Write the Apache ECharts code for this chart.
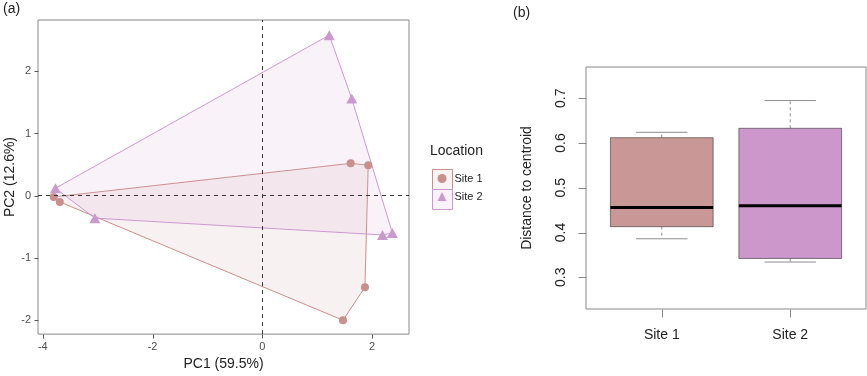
<!DOCTYPE html>
<html>
<head>
<meta charset="utf-8">
<script src="https://cdn.jsdelivr.net/npm/echarts@6/dist/echarts.min.js"></script>
<style>
  html, body { margin: 0; padding: 0; background: #fff; }
  #main { width: 867px; height: 376px; }
</style>
</head>
<body>
<div id="main"></div>
<script>
// PCA scores (a)
var site1PC1 = [-3.80, -3.69, 1.61, 1.93, 1.87, 1.47];
var site1PC2 = [-0.02, -0.10, 0.52, 0.49, -1.47, -2.00];
var site2PC1 = [-3.77, -3.05, 1.22, 1.63, 2.19, 2.37];
var site2PC2 = [0.12, -0.36, 2.58, 1.56, -0.63, -0.60];
var pcTicksX = [-4, -2, 0, 2];
var pcTicksY = [-2, -1, 0, 1, 2];

// distance to centroid (b)
var sites = ['Site 1', 'Site 2'];
var siteTicks = [1, 2];
var distMin = [0.386, 0.334];
var distQ1 = [0.413, 0.342];
var distMedian = [0.456, 0.460];
var distQ3 = [0.612, 0.633];
var distMax = [0.624, 0.695];
var distTicks = [0.3, 0.4, 0.5, 0.6, 0.7];

// axis ranges
var aX = [-4.087, 2.673], aY = [-2.223, 2.823];
var bX = [0.41, 2.59], bY = [0.229, 0.770];

var col1 = '#c98f8c', col2 = '#cc99cf';
var fill1 = '#c99896', fill2 = '#cc98cc';
var font = 'Liberation Sans, Arial, sans-serif';

function zipPts(xs, ys) {
	return xs.map(function (x, i) { return [x, ys[i]]; });
}

// convex hull (monotone chain)
function hull(pts) {
	var p = pts.slice().sort(function (a, b) { return a[0] - b[0] || a[1] - b[1]; });
	var cross = function (o, a, b) { return (a[0] - o[0]) * (b[1] - o[1]) - (a[1] - o[1]) * (b[0] - o[0]); };
	var lower = [], upper = [];
	p.forEach(function (q) {
		while (lower.length >= 2 && cross(lower[lower.length - 2], lower[lower.length - 1], q) <= 0) lower.pop();
		lower.push(q);
	});
	p.slice().reverse().forEach(function (q) {
		while (upper.length >= 2 && cross(upper[upper.length - 2], upper[upper.length - 1], q) <= 0) upper.pop();
		upper.push(q);
	});
	lower.pop(); upper.pop();
	return lower.concat(upper);
}

var pts1 = zipPts(site1PC1, site1PC2);
var pts2 = zipPts(site2PC1, site2PC2);

function hullSeries(pts, color, fill) {
	var h = hull(pts);
	return {
		type: 'custom',
		xAxisIndex: 0, yAxisIndex: 0,
		z: 1,
		silent: true,
		data: [h[0]],
		renderItem: function (params, api) {
			return {
				type: 'polygon',
				shape: { points: h.map(function (q) { return api.coord(q); }) },
				style: { fill: fill, stroke: color, lineWidth: 1 }
			};
		}
	};
}

// outward tick marks (axisTick.customValues is not drawn in this build)
function tickSeries(idx, values, onX, edge, len, color) {
	return {
		type: 'custom', xAxisIndex: idx, yAxisIndex: idx, silent: true, clip: false, z: 5,
		data: values.map(function (v) { return onX ? [v, edge] : [edge, v]; }),
		renderItem: function (params, api) {
			var p = api.coord([api.value(0), api.value(1)]);
			var x = Math.round(p[0]) + 0.5, y = Math.round(p[1]) + 0.5;
			return {
				type: 'line',
				shape: onX ? { x1: x, y1: y, x2: x, y2: y + len } : { x1: x, y1: y, x2: x - len, y2: y },
				style: { stroke: color, lineWidth: 1 }
			};
		}
	};
}

var myChart = echarts.init(document.getElementById('main'));

var option = {
	animation: false,
	title: [
		{ text: '(a)', left: 3, top: 2, padding: 0, textStyle: { fontFamily: font, fontSize: 14, fontWeight: 'normal', color: '#222' } },
		{ text: '(b)', left: 513, top: 6, padding: 0, textStyle: { fontFamily: font, fontSize: 14, fontWeight: 'normal', color: '#222' } },
		{ text: 'Location', left: 430, top: 144, padding: 0, textStyle: { fontFamily: font, fontSize: 14, fontWeight: 'normal', color: '#222' } }
	],
	legend: {
		orient: 'vertical',
		left: 437.5,
		top: 173,
		itemWidth: 9,
		itemHeight: 9,
		itemGap: 7,
		padding: 0,
		textStyle: { fontFamily: font, fontSize: 11, color: '#222', padding: [0, 0, 0, 3] },
		data: [
			{ name: 'Site 1', icon: 'circle' },
			{ name: 'Site 2', icon: 'triangle' }
		]
	},
	graphic: [
		{ type: 'rect', left: 432, top: 169, z: -1, shape: { width: 20, height: 20 }, style: { fill: '#f9f3f3', stroke: col1, lineWidth: 1 } },
		{ type: 'rect', left: 432, top: 189, z: -1, shape: { width: 20, height: 20 }, style: { fill: '#f9f2f9', stroke: col2, lineWidth: 1 } }
	],
	grid: [
		{ left: 38, top: 20, width: 371, height: 317, show: true, borderColor: '#888', borderWidth: 1, backgroundColor: 'transparent' },
		{ left: 586, top: 67, width: 280, height: 242, show: true, borderColor: '#888', borderWidth: 1, backgroundColor: 'transparent' }
	],
	xAxis: [
		{
			gridIndex: 0, type: 'value', min: aX[0], max: aX[1], position: 'bottom',
			name: 'PC1 (59.5%)', nameLocation: 'middle', nameGap: 21,
			nameTextStyle: { fontFamily: font, fontSize: 14, color: '#222' },
			axisLine: { show: false, onZero: false },
			axisTick: { show: false },
			axisLabel: { fontFamily: font, fontSize: 11, color: '#4d4d4d', margin: 7, customValues: pcTicksX },
			splitLine: { show: false }
		},
		{
			gridIndex: 1, type: 'value', min: bX[0], max: bX[1], position: 'bottom',
			axisLine: { show: false, onZero: false },
			axisTick: { show: false },
			axisLabel: {
				fontFamily: font, fontSize: 14, color: '#222', margin: 19, customValues: siteTicks,
				formatter: function (v) { return sites[Math.round(v) - 1]; }
			},
			splitLine: { show: false }
		}
	],
	yAxis: [
		{
			gridIndex: 0, type: 'value', min: aY[0], max: aY[1], position: 'left',
			name: 'PC2 (12.6%)', nameLocation: 'middle', nameGap: 21,
			nameTextStyle: { fontFamily: font, fontSize: 14, color: '#222' },
			axisLine: { show: false, onZero: false },
			axisTick: { show: false },
			axisLabel: { fontFamily: font, fontSize: 11, color: '#4d4d4d', margin: 7, customValues: pcTicksY },
			splitLine: { show: false }
		},
		{
			gridIndex: 1, type: 'value', min: bY[0], max: bY[1], position: 'left',
			name: 'Distance to centroid', nameLocation: 'middle', nameGap: 52,
			nameTextStyle: { fontFamily: font, fontSize: 14, color: '#222' },
			axisLine: { show: false, onZero: false },
			axisTick: { show: false },
			axisLabel: {
				fontFamily: font, fontSize: 14, color: '#222', margin: 18, rotate: 90, customValues: distTicks,
				formatter: function (v) { return v.toFixed(1); }
			},
			splitLine: { show: false }
		}
	],
	series: [
		hullSeries(pts1, col1, 'rgba(201,143,140,0.12)'),
		hullSeries(pts2, col2, 'rgba(204,153,207,0.12)'),
		{
			type: 'line', xAxisIndex: 0, yAxisIndex: 0, data: [], z: 2,
			markLine: {
				silent: true, symbol: 'none', label: { show: false },
				lineStyle: { color: '#333', type: [4, 4], width: 1 },
				data: [{ xAxis: 0 }, { yAxis: 0 }]
			}
		},
		{
			name: 'Site 1', type: 'scatter', xAxisIndex: 0, yAxisIndex: 0, z: 3,
			symbol: 'circle', symbolSize: 8,
			itemStyle: { color: col1, opacity: 1 },
			data: pts1
		},
		{
			name: 'Site 2', type: 'scatter', xAxisIndex: 0, yAxisIndex: 0, z: 3,
			symbol: 'triangle', symbolSize: [11, 10],
			itemStyle: { color: col2, opacity: 1 },
			data: pts2
		},
		tickSeries(0, pcTicksX, true, aY[0], 4, '#555'),
		tickSeries(0, pcTicksY, false, aX[0], 4, '#555'),
		tickSeries(1, siteTicks, true, bY[0], 8, '#888'),
		tickSeries(1, distTicks, false, bX[0], 8, '#888'),
		{
			type: 'custom', xAxisIndex: 1, yAxisIndex: 1, silent: true,
			data: sites.map(function (s, i) { return [siteTicks[i], distMin[i], distQ1[i], distMedian[i], distQ3[i], distMax[i]]; }),
			renderItem: function (params, api) {
				var x = api.value(0);
				var i = params.dataIndex;
				var half = api.size([0.4, 0])[0];
				var lo = api.coord([x, api.value(1)]);
				var q1 = api.coord([x, api.value(2)]);
				var md = api.coord([x, api.value(3)]);
				var q3 = api.coord([x, api.value(4)]);
				var hi = api.coord([x, api.value(5)]);
				var cx = lo[0];
				var thin = 'rgba(0,0,0,0.45)';
				return {
					type: 'group',
					children: [
						{ type: 'line', shape: { x1: cx, y1: q1[1], x2: cx, y2: lo[1] }, style: { stroke: thin, lineWidth: 1, lineDash: [3, 3] } },
						{ type: 'line', shape: { x1: cx, y1: q3[1], x2: cx, y2: hi[1] }, style: { stroke: thin, lineWidth: 1, lineDash: [3, 3] } },
						{ type: 'line', shape: { x1: cx - half / 2, y1: lo[1], x2: cx + half / 2, y2: lo[1] }, style: { stroke: thin, lineWidth: 1 } },
						{ type: 'line', shape: { x1: cx - half / 2, y1: hi[1], x2: cx + half / 2, y2: hi[1] }, style: { stroke: thin, lineWidth: 1 } },
						{ type: 'rect', shape: { x: cx - half, y: q3[1], width: half * 2, height: q1[1] - q3[1] }, style: { fill: i === 0 ? fill1 : fill2, stroke: thin, lineWidth: 1 } },
						{ type: 'line', shape: { x1: cx - half, y1: md[1], x2: cx + half, y2: md[1] }, style: { stroke: '#000', lineWidth: 3 } }
					]
				};
			}
		}
	]
};

myChart.setOption(option);
</script>
</body>
</html>
